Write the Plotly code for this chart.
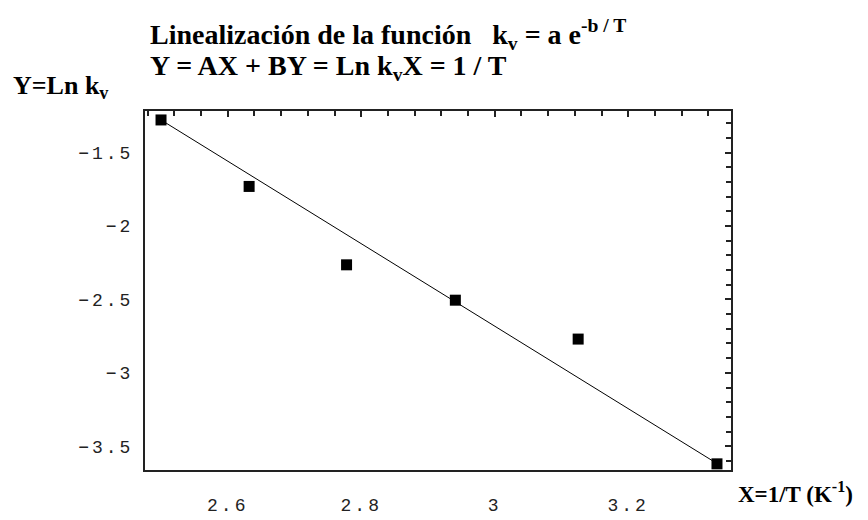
import plotly.graph_objects as go

# Data (X = 1/T in 10^-3 K^-1, Y = Ln kv)
x_vals = [2.500, 2.632, 2.778, 2.941, 3.125, 3.333]
y_vals = [-1.277, -1.730, -2.264, -2.505, -2.770, -3.620]

# fitted straight line Y = A X + B as drawn in the picture
fit_A = -2.81
fit_B = 5.748

x_ticks = [2.6, 2.8, 3.0, 3.2]
x_ticktext = ["2.6", "2.8", "3", "3.2"]
y_ticks = [-1.5, -2.0, -2.5, -3.0, -3.5]
y_ticktext = ["\u22121.5", "\u22122", "\u22122.5", "\u22123", "\u22123.5"]

title1 = "Linealización de la función   k<sub>v</sub> = a e<sup>-b / T</sup>"
title2 = "Y = AX + BY = Ln k<sub>v</sub>X = 1 / T"
xlabel = "X=1/T (K<sup>-1</sup>)"
ylabel = "Y=Ln k<sub>v</sub>"

fit_x = [x_vals[0], x_vals[-1]]
fit_y = [fit_A * v + fit_B for v in fit_x]

xr = [2.476, 3.354]
yr = [-3.662, -1.216]

W, H = 868, 520
ML, MR, MT, MB = 137, 145, 103, 55
PW, PH = W - ML - MR, H - MT - MB


def px(xp):
    return (xp - ML) / PW


def py(yp):
    return (H - MB - yp) / PH


def spaced(t):
    return '<span style="letter-spacing:3px">' + t + '</span>'


fig = go.Figure()
fig.add_trace(go.Scatter(x=fit_x, y=fit_y, mode="lines",
                         line=dict(color="black", width=1), showlegend=False))
fig.add_trace(go.Scatter(x=x_vals, y=y_vals, mode="markers",
                         marker=dict(symbol="square", size=11, color="black"),
                         showlegend=False))
fig.add_trace(go.Scatter(x=[x_vals[0]], y=[y_vals[0]], xaxis="x2", yaxis="y2",
                         mode="markers", marker=dict(opacity=0), showlegend=False,
                         hoverinfo="skip"))

tickfont = dict(family="Liberation Mono", size=18, color="#222222")

fig.update_layout(
    width=W, height=H,
    margin=dict(l=ML, r=MR, t=MT, b=MB),
    paper_bgcolor="white", plot_bgcolor="white",
    xaxis=dict(range=xr, tickvals=x_ticks, ticktext=[spaced(t) for t in x_ticktext],
               ticks="", showgrid=False, zeroline=False, showline=True,
               linecolor="#222", linewidth=2, mirror=True, tickfont=tickfont,
               ticklabelstandoff=17),
    yaxis=dict(range=yr, tickvals=y_ticks, ticktext=[spaced(t) for t in y_ticktext],
               ticks="", showgrid=False, zeroline=False, showline=True,
               linecolor="#222", linewidth=2, mirror=True, tickfont=tickfont,
               ticklabelstandoff=6),
    xaxis2=dict(range=xr, overlaying="x", side="top", tickvals=x_ticks,
                showticklabels=False, ticks="inside", ticklen=6, tickwidth=1.5,
                tickcolor="#222", showgrid=False, zeroline=False,
                minor=dict(ticks="inside", dtick=0.04, tick0=2.4, ticklen=5,
                           tickwidth=1.5, tickcolor="#222")),
    yaxis2=dict(range=yr, overlaying="y", side="right", tickvals=y_ticks,
                showticklabels=False, ticks="inside", ticklen=6, tickwidth=1.5,
                tickcolor="#222", showgrid=False, zeroline=False,
                minor=dict(ticks="inside", dtick=0.1, tick0=-4, ticklen=5,
                           tickwidth=1.5, tickcolor="#222")),
)

serif_t = dict(family="Liberation Serif", size=28, color="black")
fig.add_annotation(text="<b>" + title1 + "</b>", xref="paper", yref="paper",
                   x=px(140), y=py(26), xanchor="left", yanchor="middle",
                   showarrow=False, font=serif_t)
fig.add_annotation(text="<b>" + title2 + "</b>", xref="paper", yref="paper",
                   x=px(140), y=py(59), xanchor="left", yanchor="middle",
                   showarrow=False, font=serif_t)
fig.add_annotation(text="<b>" + ylabel + "</b>", xref="paper", yref="paper",
                   x=px(3), y=py(79), xanchor="left", yanchor="middle",
                   showarrow=False,
                   font=dict(family="Liberation Serif", size=26, color="black"))
fig.add_annotation(text="<b>" + xlabel + "</b>", xref="paper", yref="paper",
                   x=px(728), y=py(488), xanchor="left", yanchor="middle",
                   showarrow=False,
                   font=dict(family="Liberation Serif", size=23, color="black"))

fig.write_html("out.html")
